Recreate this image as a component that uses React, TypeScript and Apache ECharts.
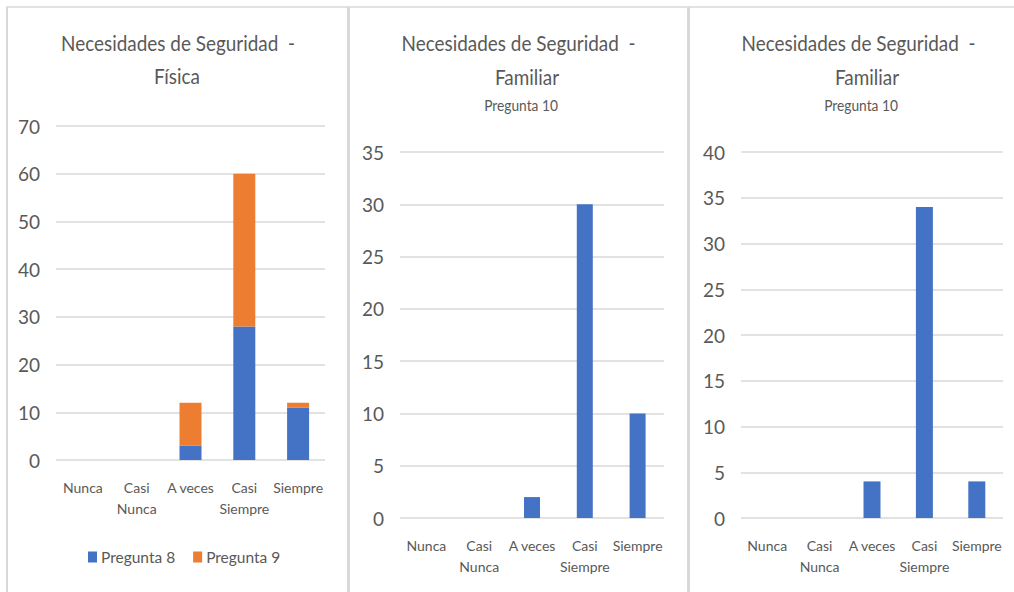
import React, { useEffect, useRef } from "react";
import * as echarts from "echarts";

const categories = ["Nunca", "Casi Nunca", "A veces", "Casi Siempre", "Siempre"];
const pregunta8 = [0, 0, 3, 28, 11];
const pregunta9 = [0, 0, 9, 32, 1];
const familiar1 = [0, 0, 2, 30, 10];
const familiar2 = [0, 0, 4, 34, 4];
const titleLine1 = "Necesidades de Seguridad  -";
const titleFisica = "Física";
const titleFamiliar = "Familiar";
const subtitle = "Pregunta 10";
const yMax = [70, 35, 40];
const yStep = [10, 5, 5];

const FONT = "Lato, 'Liberation Sans', Arial, sans-serif";
const GREY = "#595959";
const BLUE = "#4472C4";
const ORANGE = "#ED7D31";
const GRID = "#d9d9d9";
const SX = 0.86;

const catLabel = (v: string) => (v === "A veces" ? v : v.replace(" ", "\n"));

const txt = (text: string, x: number, y: number, size: number) => ({
  type: "text",
  x,
  y,
  scaleX: SX,
  silent: true,
  style: {
    text,
    fill: GREY,
    fontFamily: "Lato, 'Liberation Sans', Arial, sans-serif",
    fontSize: size,
    align: "center",
    verticalAlign: "middle",
  },
});

export default function App() {
  const ref = useRef<HTMLDivElement>(null);
  useEffect(() => {
    if (!ref.current) return;
    const chart = echarts.init(ref.current, undefined, { renderer: "svg" });
    const grids = [
      { left: 56, top: 126, width: 269, height: 334 },
      { left: 400, top: 152, width: 264, height: 366 },
      { left: 741, top: 152, width: 262, height: 366 },
    ];
    const xAxis = grids.map((_, i) => ({
      type: "category",
      gridIndex: i,
      data: categories,
      axisLine: { show: false },
      axisTick: { show: false },
      axisLabel: {
        formatter: catLabel,
        color: GREY,
        fontFamily: FONT,
        fontSize: 14,
        lineHeight: 21,
        margin: 17,
        interval: 0,
      },
    }));
    const yAxis = grids.map((_, i) => ({
      type: "value",
      gridIndex: i,
      min: 0,
      max: yMax[i],
      interval: yStep[i],
      axisLine: { show: false },
      axisTick: { show: false },
      splitLine: { lineStyle: { color: GRID, width: 1.5 } },
      axisLabel: {
        color: GREY,
        fontFamily: FONT,
        fontSize: 19,
        margin: 16,
      },
    }));
    chart.setOption({
      animation: false,
      backgroundColor: "#ffffff",
      legend: {
        data: ["Pregunta 8", "Pregunta 9"],
        left: 88,
        top: 548,
        icon: "rect",
        itemWidth: 9,
        itemHeight: 11,
        itemGap: 18,
        padding: 0,
        textStyle: { color: GREY, fontFamily: FONT, fontSize: 15.5, lineHeight: 18, padding: [0, 0, 0, -1] },
      },
      grid: grids.map((g) => ({ ...g, outerBoundsMode: "none" })),
      xAxis,
      yAxis,
      series: [
        { name: "Pregunta 8", type: "bar", stack: "fisica", xAxisIndex: 0, yAxisIndex: 0, data: pregunta8, barWidth: 22, itemStyle: { color: BLUE } },
        { name: "Pregunta 9", type: "bar", stack: "fisica", xAxisIndex: 0, yAxisIndex: 0, data: pregunta9, barWidth: 22, itemStyle: { color: ORANGE } },
        { name: "Familiar 1", type: "bar", xAxisIndex: 1, yAxisIndex: 1, data: familiar1, barWidth: 16, itemStyle: { color: BLUE } },
        { name: "Familiar 2", type: "bar", xAxisIndex: 2, yAxisIndex: 2, data: familiar2, barWidth: 17, itemStyle: { color: BLUE } },
      ],
      graphic: [
        { type: "line", silent: true, shape: { x1: 6, y1: 7, x2: 1014, y2: 7 }, style: { stroke: GRID, lineWidth: 1.5 } },
        { type: "rect", silent: true, shape: { x: 6, y: 7, width: 2, height: 585 }, style: { fill: GRID } },
        { type: "rect", silent: true, shape: { x: 347, y: 7, width: 3, height: 585 }, style: { fill: GRID } },
        { type: "rect", silent: true, shape: { x: 687, y: 7, width: 3, height: 585 }, style: { fill: GRID } },
        txt(titleLine1, 178, 42.5, 22),
        txt(titleFisica, 177, 75.5, 22),
        txt(titleLine1, 518.5, 42.5, 22),
        txt(titleFamiliar, 527, 76.5, 22),
        txt(subtitle, 521, 105, 16),
        txt(titleLine1, 858.5, 42.5, 22),
        txt(titleFamiliar, 867, 76.5, 22),
        txt(subtitle, 861, 105, 16),
      ],
    });
    return () => chart.dispose();
  }, []);
  return (
    <div style={{ position: "fixed", left: 0, top: 0, width: 1014, height: 592, background: "#fff" }}>
      <div ref={ref} style={{ width: 1014, height: 592 }} />
    </div>
  );
}
